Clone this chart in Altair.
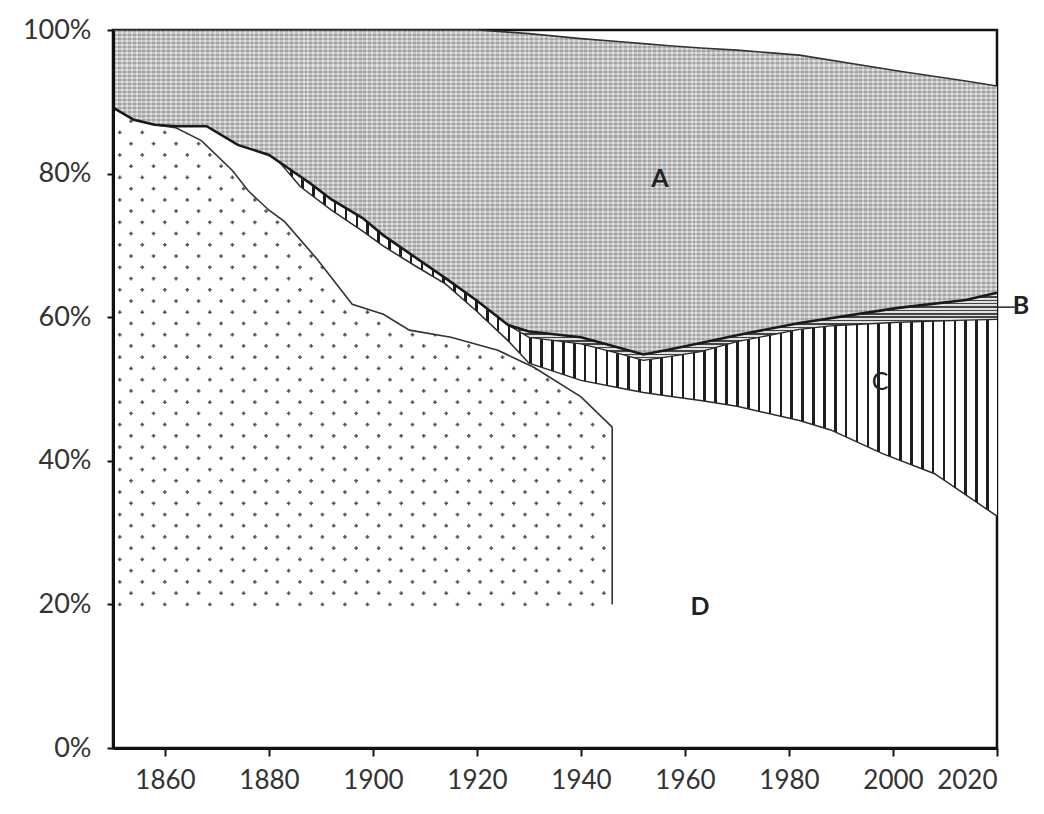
import altair as alt
import pandas as pd

# ---------------- values (year, percent) ----------------
# A : dense grey band (upper edge / lower edge)
a_years = [1850, 1854, 1858, 1862, 1868, 1874, 1880, 1884, 1888, 1892, 1898, 1902, 1908,
           1914, 1920, 1926, 1930, 1940, 1947, 1952, 1957, 1963, 1970, 1982, 2001, 2014, 2020]
a_top = [100, 100, 100, 100, 100, 100, 100, 100, 100, 100, 100, 100, 100, 100, 100,
         99.7, 99.5, 98.8, 98.4, 98.1, 97.8, 97.5, 97.2, 96.5, 94.3, 92.9, 92.2]
a_bottom = [89.2, 87.5, 86.8, 86.6, 86.6, 84.0, 82.6, 80.6, 78.6, 76.4, 73.8, 71.4, 68.4,
            65.4, 62.3, 58.9, 58.0, 57.2, 55.8, 54.8, 55.5, 56.4, 57.5, 59.2, 61.3, 62.4, 63.4]

# B : thin band with horizontal lines
b_years = [1926, 1930, 1940, 1947, 1952, 1957, 1963, 1970, 1982, 1988, 2001, 2014, 2020]
b_bottom = [58.9, 57.2, 56.3, 55.0, 54.0, 54.5, 55.2, 56.6, 58.3, 58.8, 59.3, 59.6, 59.7]
b_top = [58.9, 58.0, 57.2, 55.8, 54.8, 55.5, 56.4, 57.5, 59.2, 60.0, 61.3, 62.4, 63.4]

# C : vertically hatched band
c_years = [1882, 1886, 1892, 1898, 1902, 1908, 1914, 1920, 1926, 1930, 1940, 1947, 1952,
           1957, 1963, 1970, 1982, 1988, 1998, 2008, 2020]
c_top = [81.6, 79.4, 76.4, 73.8, 71.4, 68.4, 65.4, 62.3, 58.9, 57.2, 56.3, 55.0, 54.0,
         54.5, 55.2, 56.6, 58.3, 58.8, 59.2, 59.5, 59.7]
c_bottom = [81.6, 78.2, 74.9, 72.0, 69.9, 67.2, 64.6, 60.8, 56.7, 53.6, 51.2, 50.2, 49.5,
            49.0, 48.4, 47.6, 45.6, 44.3, 41.0, 38.2, 32.3]

# sparsely dotted region (upper edge), floor at 20 %
d_years = [1850, 1854, 1858, 1862, 1867, 1873, 1876, 1880, 1883, 1889, 1896, 1902, 1907,
           1915, 1924, 1931, 1940, 1946]
d_top = [89.2, 87.5, 86.8, 86.4, 84.6, 80.4, 77.6, 74.9, 73.3, 68.3, 61.8, 60.4, 58.2,
         57.2, 55.4, 53.0, 48.9, 44.7]
d_floor = 20

# region labels
lab_text = ["A", "B", "C", "D"]
lab_year = [1955.2, 2024.6, 1997.5, 1962.9]
lab_pct = [79.2, 61.6, 51.0, 19.7]
lab_bold = [True, True, False, True]
leader_year = [2019.6, 2023.4]
leader_pct = 61.4

x_ticks = [1860, 1880, 1900, 1920, 1940, 1960, 1980, 2000, 2020]
y_ticks = [0, 20, 40, 60, 80, 100]

# ---------------- tables ----------------
a_df = pd.DataFrame({"year": a_years, "lo": a_bottom, "hi": a_top})
b_df = pd.DataFrame({"year": b_years, "lo": b_bottom, "hi": b_top})
c_df = pd.DataFrame({"year": c_years, "lo": c_bottom, "hi": c_top})
d_df = pd.DataFrame({"year": d_years, "hi": d_top})
drop_df = pd.DataFrame({"year": [d_years[-1]], "lo": [d_floor], "hi": [d_top[-1]]})
lab_df = pd.DataFrame({"t": lab_text, "year": lab_year, "pct": lab_pct, "bold": lab_bold})
lead_df = pd.DataFrame({"year": [leader_year[0]], "year2": [leader_year[1]], "pct": [leader_pct]})


def stripes(n, c1, c2, frac, horizontal=True):
    stops = []
    for k in range(n):
        a = k / n
        b = (k + frac) / n
        c = min((k + 1) / n, 1.0)
        stops += [{"offset": a, "color": c1}, {"offset": b, "color": c1},
                  {"offset": b, "color": c2}, {"offset": c, "color": c2}]
    return {"gradient": "linear", "x1": 0, "y1": 0,
            "x2": 1 if horizontal else 0, "y2": 0 if horizontal else 1, "stops": stops}


FONT = "Lato"
xs = alt.Scale(domain=[1850, 2020], nice=False, zero=False)
ys = alt.Scale(domain=[0, 100], nice=False)
X = alt.X("year:Q", scale=xs, title=None,
          axis=alt.Axis(values=x_ticks, format="d", tickSize=8, labelPadding=11,
                        labelFontSize=26, zindex=2))
Y = alt.Y("lo:Q", scale=ys, title=None,
          axis=alt.Axis(values=y_ticks, labelExpr="datum.value + '%'", tickSize=6,
                        labelPadding=16, zindex=2))

# dot texture of the lower-left region (generated by Vega-Lite itself)
dots = (
    alt.Chart(alt.sequence(0, 1980, as_="i"))
    .transform_calculate(row="floor(datum.i / 45)", col="datum.i % 45")
    .transform_filter("(datum.row + datum.col) % 2 == 0")
    .transform_calculate(year="1851.3 + datum.col * 2.165", lo="20 + datum.row * 1.565")
    .transform_filter("datum.year <= 1945.6")
    .mark_point(shape="cross", filled=True, size=14, color="#444", opacity=0.9)
    .encode(x=X, y=Y)
)

mask = alt.Chart(d_df).mark_area(color="white").encode(
    x=X, y=alt.Y("hi:Q", scale=ys), y2=alt.datum(90))

c_area = alt.Chart(c_df).mark_area(fill=stripes(66, "#1e1e1e", "#ffffff", 0.24)).encode(
    x=X, y=Y, y2="hi:Q")
b_area = alt.Chart(b_df).mark_area(fill=stripes(20, "#444444", "#e0e0e0", 0.45, False)).encode(
    x=X, y=Y, y2="hi:Q")
a_area = alt.Chart(a_df).mark_area(fill=stripes(180, "#aeaeae", "#d6d6d6", 0.6)).encode(
    x=X, y=Y, y2="hi:Q")
a_area2 = alt.Chart(a_df).mark_area(
    fill=stripes(80, "#8c8c8c", "#ffffff", 0.5, False), fillOpacity=0.3).encode(
    x=X, y=Y, y2="hi:Q")

d_line = alt.Chart(d_df).mark_line(color="#333", strokeWidth=1.6).encode(
    x=X, y=alt.Y("hi:Q", scale=ys))
drop = alt.Chart(drop_df).mark_rule(color="#333", strokeWidth=1.6).encode(
    x=X, y=alt.Y("lo:Q", scale=ys), y2="hi:Q")
c_line = alt.Chart(c_df).mark_line(color="#2a2a2a", strokeWidth=1.5).encode(x=X, y=Y)
b_line = alt.Chart(b_df).mark_line(color="#2a2a2a", strokeWidth=1.3).encode(x=X, y=Y)
a_line = alt.Chart(a_df).mark_line(color="#1a1a1a", strokeWidth=2.6).encode(x=X, y=Y)
a_topline = alt.Chart(a_df).mark_line(color="#333", strokeWidth=1.6).encode(
    x=X, y=alt.Y("hi:Q", scale=ys))

lab_base = alt.Chart(lab_df).encode(x=X, y=alt.Y("pct:Q", scale=ys), text="t:N")
labels_bold = lab_base.transform_filter("datum.bold").mark_text(
    font=FONT, fontSize=25, fontWeight="bold", color="#222", align="center", baseline="middle")
labels_reg = lab_base.transform_filter("!datum.bold").mark_text(
    font=FONT, fontSize=25, color="#222", align="center", baseline="middle")
leader = alt.Chart(lead_df).mark_rule(color="#333", strokeWidth=1.6).encode(
    x=X, x2="year2:Q", y=alt.Y("pct:Q", scale=ys))

chart = (
    alt.layer(dots, mask, c_area, b_area, a_area, a_area2, d_line, drop, c_line, b_line,
              a_line, a_topline, labels_bold, labels_reg, leader)
    .properties(width=884, height=718, autosize=alt.AutoSizeParams(type="none"),
                padding={"left": 105, "top": 22, "right": 39, "bottom": 52},
                background="white")
    .configure_view(stroke="#111", strokeWidth=2.5)
    .configure_axis(grid=False, domainColor="#111", domainWidth=3, tickColor="#111",
                    tickWidth=2, labelFont=FONT, labelFontSize=27, labelColor="#333")
)

chart.save("out.html", embed_options={"renderer": "svg", "actions": False})
